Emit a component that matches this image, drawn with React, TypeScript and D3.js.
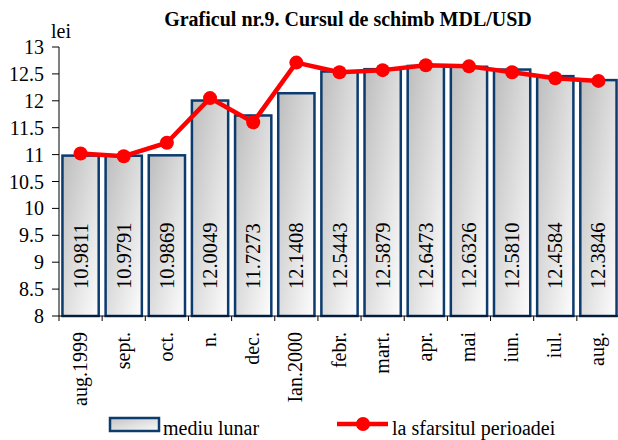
import React from 'react';
import { scaleBand, scaleLinear, line } from 'd3';

const categories = ['aug.1999', 'sept.', 'oct.', 'n.', 'dec.', 'Ian.2000', 'febr.', 'mart.', 'apr.', 'mai', 'iun.', 'iul.', 'aug.'];
const monthlyAvg = [10.9811, 10.9791, 10.9869, 12.0049, 11.7273, 12.1408, 12.5443, 12.5879, 12.6473, 12.6326, 12.581, 12.4584, 12.3846];
const endOfPeriod = [11.02, 10.97, 11.22, 12.05, 11.6, 12.71, 12.53, 12.57, 12.66, 12.64, 12.53, 12.42, 12.37];
const yTicks = [8, 8.5, 9, 9.5, 10, 10.5, 11, 11.5, 12, 12.5, 13];

const W = 618;
const H = 440;
const left = 59;
const right = 620;
const top = 47;
const bottom = 316;
const serif = '"Liberation Serif", "Times New Roman", serif';
const navy = '#0c3b6e';
const red = '#ff0000';

export default function App() {
  const x = scaleBand<string>().domain(categories).range([left, right]).paddingInner(0.16).paddingOuter(0.08);
  const y = scaleLinear().domain([8, 13]).range([bottom, top]);
  const step = x.step();
  const cx = (i: number) => (x(categories[i]) ?? 0) + x.bandwidth() / 2;

  const path = line<number>()
    .x((_, i) => cx(i))
    .y(d => y(d))(endOfPeriod);

  return (
    <svg width={W} height={H} style={{ position: 'absolute', left: 0, top: 0, background: '#fff' }} fontFamily={serif}>
      <defs>
        <linearGradient id="barFill" x1="0" y1="0" x2="1" y2="1">
          <stop offset="0" stopColor="#bdbdbd" />
          <stop offset="1" stopColor="#fdfdfd" />
        </linearGradient>
        <linearGradient id="legFill" x1="0" y1="0" x2="1" y2="1">
          <stop offset="0" stopColor="#c4c4c4" />
          <stop offset="1" stopColor="#fafafa" />
        </linearGradient>
      </defs>

      <text x={348} y={26} textAnchor="middle" fontWeight="bold" fontSize={20}>
        Graficul nr.9. Cursul de schimb MDL/USD
      </text>
      <text x={51} y={38} fontSize={20}>lei</text>

      {/* bars */}
      {monthlyAvg.map((v, i) => (
        <rect key={i} x={x(categories[i])} y={y(v)} width={x.bandwidth()} height={bottom - y(v)}
          fill="url(#barFill)" stroke={navy} strokeWidth={2.5} />
      ))}
      {monthlyAvg.map((v, i) => (
        <text key={'l' + i} transform={`translate(${cx(i) + 7},289) rotate(-90)`} fontSize={20.5} textAnchor="start">
          {v.toFixed(4)}
        </text>
      ))}

      {/* y axis */}
      <line x1={left} x2={left} y1={top} y2={bottom} stroke="#000" />
      {yTicks.map(t => (
        <g key={t}>
          <line x1={left - 7} x2={left} y1={y(t)} y2={y(t)} stroke="#000" />
          <text x={left - 15} y={y(t) + 7} textAnchor="end" fontSize={20}>{t}</text>
        </g>
      ))}

      {/* x axis */}
      <line x1={left} x2={right} y1={bottom} y2={bottom} stroke="#000" />
      {categories.map((c, i) => (
        <g key={c + i}>
          <line x1={left + step * i} x2={left + step * i} y1={bottom} y2={bottom + 5} stroke="#000" />
          <text transform={`translate(${cx(i) + 6},${bottom + 16}) rotate(-90)`} textAnchor="end" fontSize={20}>{c}</text>
        </g>
      ))}

      {/* line series */}
      <path d={path ?? ''} fill="none" stroke={red} strokeWidth={4.5} strokeLinejoin="round" />
      {endOfPeriod.map((v, i) => (
        <circle key={i} cx={cx(i)} cy={y(v)} r={7} fill={red} />
      ))}

      {/* legend */}
      <rect x={110} y={418} width={49} height={13} fill="url(#legFill)" stroke={navy} strokeWidth={2.5} />
      <text x={163} y={435} fontSize={20}>mediu lunar</text>
      <line x1={337} x2={388} y1={424} y2={424} stroke={red} strokeWidth={4.5} />
      <circle cx={363} cy={424} r={7} fill={red} />
      <text x={392} y={435} fontSize={20}>la sfarsitul perioadei</text>
    </svg>
  );
}
